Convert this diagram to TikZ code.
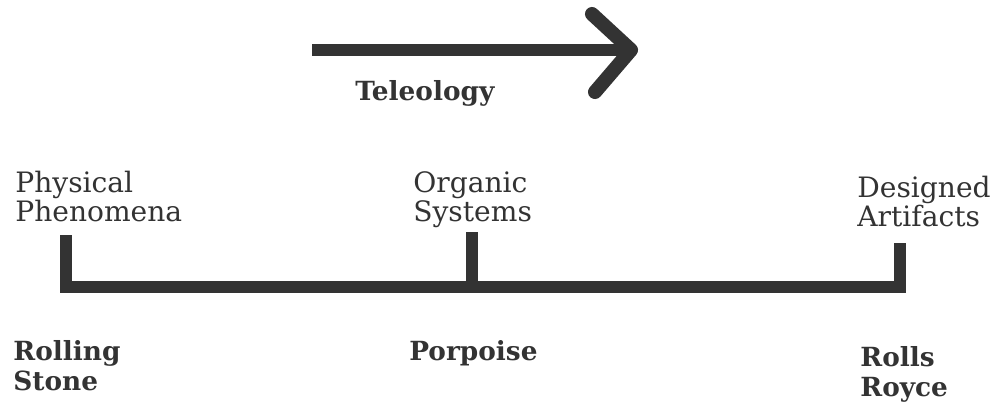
\documentclass[tikz,border=0pt]{standalone}
\usepackage{fontspec}
\setmainfont{DejaVu Serif}
\definecolor{ink}{RGB}{51,51,51}
\tikzset{
  cat/.style={anchor=north west, align=left, inner sep=0pt, font=\fontsize{16}{16.5}\selectfont, text=ink},
  example/.style={anchor=north west, align=left, inner sep=0pt, font=\bfseries\fontsize{15}{17}\selectfont, text=ink},
  bar/.style={draw=ink, line width=7pt},
}
\begin{document}
\begin{tikzpicture}[x=0.02cm,y=-0.02cm]
        \useasboundingbox (0,0) rectangle (997,406);

        % teleology arrow
        \coordinate (shaftStart) at (312,50);
        \coordinate (tip) at (631,50);
        \draw [bar] (shaftStart) -- (tip);
        \draw [bar, line width=8pt, line join=round, line cap=round] (592,14) -- (tip) -- (595,92);
        \node [example] (teleology) at (355,80) {Teleology};

        % categories
        \node [cat] (physical) at (15,171) {Physical\\Phenomena};
        \node [cat] (organic) at (413,171) {Organic\\Systems};
        \node [cat] (designed) at (857,176) {Designed\\Artifacts};

        % bracket
        \coordinate (physTop) at (66,235);
        \coordinate (orgTop) at (472,232);
        \coordinate (desTop) at (900,243);
        \draw [bar] (physTop) -- (66,287) -- (900,287) -- (desTop);
        \draw [bar] (orgTop) -- (472,287);

        % examples
        \node [example] (rolling) at (13,340) {Rolling\\Stone};
        \node [example] (porpoise) at (409,340) {Porpoise};
        \node [example] (rolls) at (860,346) {Rolls\\Royce};
      \end{tikzpicture}
\end{document}
